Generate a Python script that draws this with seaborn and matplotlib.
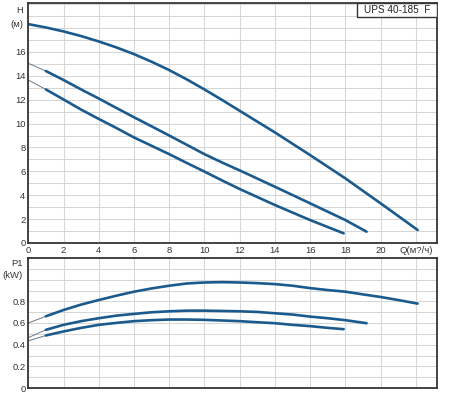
import pandas as pd
import numpy as np
import matplotlib.pyplot as plt
import seaborn as sns
from matplotlib.patches import Rectangle

# head curves H(Q) (Q in m3/h, H in m)
qh_hi = [0, 1, 2, 3, 4, 5, 6, 7, 8, 9, 10, 11, 12, 14, 16, 18, 20, 22.1]
h_hi = [18.33, 18.05, 17.72, 17.33, 16.88, 16.38, 15.82, 15.18, 14.48, 13.7, 12.86, 11.98, 11.07,
        9.26, 7.36, 5.41, 3.32, 1.09]

qh_mid = [0, 1, 2, 3, 4, 5, 6, 7, 8, 9, 10, 11, 12, 14, 16, 18, 19.2]
h_mid = [15.05, 14.4, 13.65, 12.86, 12.1, 11.31, 10.53, 9.77, 9.0, 8.22, 7.44, 6.74, 6.08,
         4.71, 3.32, 1.92, 0.95]

qh_lo = [0, 1, 2, 3, 4, 5, 6, 7, 8, 9, 10, 11, 12, 14, 16, 17.9]
h_lo = [13.65, 12.86, 12.02, 11.17, 10.39, 9.63, 8.84, 8.14, 7.44, 6.7, 5.98, 5.24, 4.52,
        3.18, 1.92, 0.81]

# power curves P1(Q), kW
qp_hi = [0, 1, 2, 3, 4, 5, 6, 7, 8, 9, 10, 11, 12, 13, 14, 15, 16, 17, 18, 19, 20, 21, 22.1]
p_hi = [0.6, 0.662, 0.72, 0.77, 0.812, 0.852, 0.889, 0.919, 0.944, 0.965, 0.974, 0.977, 0.974,
        0.968, 0.959, 0.944, 0.922, 0.904, 0.889, 0.864, 0.84, 0.812, 0.779]

qp_mid = [0, 1, 2, 3, 4, 5, 6, 7, 8, 9, 10, 11, 12, 13, 14, 15, 16, 17, 18, 19.2]
p_mid = [0.465, 0.537, 0.583, 0.617, 0.644, 0.668, 0.684, 0.699, 0.708, 0.714, 0.714, 0.711,
         0.708, 0.702, 0.69, 0.678, 0.659, 0.644, 0.626, 0.598]

qp_lo = [0, 1, 2, 3, 4, 5, 6, 7, 8, 9, 10, 11, 12, 13, 14, 15, 16, 17, 17.9]
p_lo = [0.435, 0.485, 0.522, 0.555, 0.583, 0.601, 0.617, 0.626, 0.632, 0.632, 0.629, 0.623,
        0.617, 0.607, 0.598, 0.583, 0.571, 0.555, 0.543]

x_ticks = list(range(0, 23, 2))
x_labels = [str(v) for v in range(0, 21, 2)] + ["Q(м?/ч)"]
h_ticks = list(range(0, 17, 2))
p_ticks = [0, 0.2, 0.4, 0.6, 0.8]
p_labels = ["0", "0.2", "0.4", "0.6", "0.8"]

sns.set_style("white")
plt.rcParams['font.family'] = ['Liberation Sans', 'DejaVu Sans']

blue = "#1b5a8c"
thin = "#6a7a8a"
grid = "#d6d6d6"
frame = "#353535"
txt = "#333333"
fs = 6.8

fig = plt.figure(figsize=(4.5, 4.18), dpi=100)
ax1 = fig.add_axes([28.3/450, 1-243/418, 408.7/450, 240/418])
ax2 = fig.add_axes([28.3/450, 1-388/418, 408.7/450, 130/418])


def draw(ax, q, v, thick_start):
    d = pd.DataFrame({"q": q, "v": v})
    if thick_start > 0:
        sns.lineplot(data=d.iloc[:thick_start + 1], x="q", y="v", ax=ax,
                     color=thin, lw=0.7, sort=False)
    sns.lineplot(data=d.iloc[thick_start:], x="q", y="v", ax=ax,
                 color=blue, lw=1.9, sort=False)


draw(ax1, qh_hi, h_hi, 0)
draw(ax1, qh_mid, h_mid, 1)
draw(ax1, qh_lo, h_lo, 1)

draw(ax2, qp_hi, p_hi, 1)
draw(ax2, qp_mid, p_mid, 1)
draw(ax2, qp_lo, p_lo, 1)

for ax in (ax1, ax2):
    ax.set_xlim(0, 23.2)
    ax.set_xlabel("")
    ax.set_ylabel("")
    ax.set_xticks(x_ticks)
    ax.grid(True, which="both", color=grid, lw=0.75)
    ax.set_axisbelow(True)
    ax.tick_params(which="both", length=0, labelsize=fs, colors=txt, pad=2)
    for s in ax.spines.values():
        s.set_color(frame)
        s.set_linewidth(1.3)

ax1.set_ylim(0, 20.1)
ax1.set_xticklabels(x_labels)
ax1.set_yticks(h_ticks)
ax1.set_yticks(range(0, 21), minor=True)
ax1.text(-0.3, 19.5, "H", ha="right", va="center", fontsize=fs, color=txt)
ax1.text(-0.3, 18.3, "(м)", ha="right", va="center", fontsize=fs, color=txt)
ax1.add_patch(Rectangle((0.805, 0.942), 0.195, 0.058, transform=ax1.transAxes,
                        fc="white", ec=frame, lw=1.0, zorder=5))
ax1.text(0.9025, 0.971, "UPS 40-185  F", transform=ax1.transAxes, ha="center", va="center",
         fontsize=7.2, color="#222222", zorder=6)

ax2.set_ylim(0, 1.2)
ax2.set_xticklabels([])
ax2.set_yticks(p_ticks)
ax2.set_yticklabels(p_labels)
ax2.set_yticks(np.arange(0, 1.25, 0.1), minor=True)
ax2.text(-0.3, 1.15, "P1", ha="right", va="center", fontsize=fs, color=txt)
ax2.text(-0.3, 1.04, "(kW)", ha="right", va="center", fontsize=fs, color=txt)

fig.savefig("out.png", dpi=100)
